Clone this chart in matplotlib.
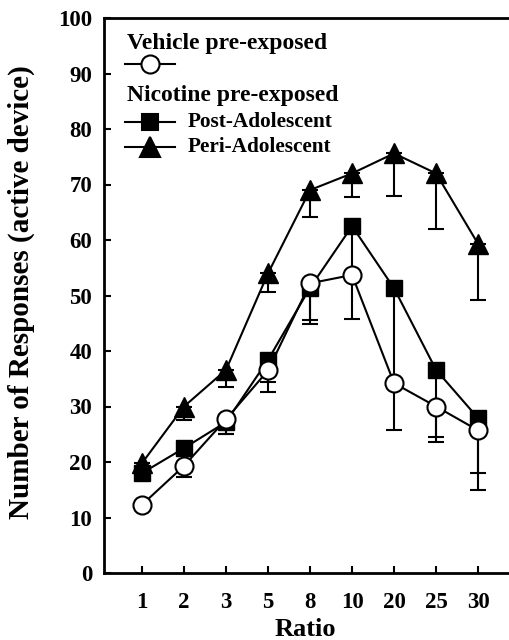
import matplotlib
matplotlib.use("Agg")
import matplotlib.pyplot as plt
from matplotlib.lines import Line2D
import numpy as np

ratios = ['1', '2', '3', '5', '8', '10', '20', '25', '30']
vehicle = [12.3, 19.3, 27.7, 36.5, 52.2, 53.7, 34.2, 30.0, 25.7]
vehicle_sem = [0.8, 2.0, 2.7, 2.1, 6.6, 7.9, 8.4, 5.5, 7.7]
post = [18.0, 22.5, 27.2, 38.4, 51.4, 62.5, 51.3, 36.6, 27.9]
post_sem = [1.0, 1.5, 2.2, 5.8, 6.5, 8.5, 16.3, 13.0, 12.9]
peri = [19.8, 30.0, 36.6, 54.0, 69.0, 72.0, 75.6, 72.0, 59.3]
peri_sem = [1.0, 2.4, 3.1, 3.4, 4.8, 4.3, 7.6, 10.0, 10.1]

plt.rcParams['font.family'] = ['Liberation Serif', 'DejaVu Serif']
plt.rcParams['font.weight'] = 'bold'

W, H = 510, 640
fig = plt.figure(figsize=(W / 100, H / 100), dpi=100)
ax = fig.add_axes([104 / W, (H - 573) / H, 406 / W, 555 / H])

x = np.arange(len(ratios))
common = dict(color='black', lw=1.5, elinewidth=1.5, capsize=6, capthick=1.5)

def lower(err):
    return [err, [0] * len(err)]

ax.errorbar(x, peri, yerr=lower(peri_sem), marker='^', ms=15, mfc='black', mec='black', zorder=3, **common)
ax.errorbar(x, post, yerr=lower(post_sem), marker='s', ms=12, mfc='black', mec='black', zorder=4, **common)
ax.errorbar(x, vehicle, yerr=lower(vehicle_sem), marker='o', ms=13, mfc='white', mec='black', mew=1.5, zorder=5, **common)

ax.set_xlim(-0.905, 8.76)
ax.set_ylim(0, 100)
ax.set_xticks(x)
ax.set_xticklabels(ratios)
ax.set_yticks(np.arange(0, 101, 10))
ax.tick_params(direction='in', length=5, width=1.5, labelsize=16.5)
ax.tick_params(axis='x', pad=14)
ax.tick_params(axis='y', pad=8.5)
for lab in ax.get_xticklabels() + ax.get_yticklabels():
    lab.set_fontweight('bold')
ax.spines['right'].set_visible(False)
for s in ['left', 'top', 'bottom']:
    ax.spines[s].set_linewidth(2)

ax.set_xlabel('Ratio', fontsize=19, fontweight='bold')
ax.set_ylabel('Number of Responses (active device)', fontsize=21, fontweight='bold')
ax.xaxis.set_label_coords((305 - 104) / 406, (573 - 618) / 555)
ax.yaxis.set_label_coords((35 - 104) / 406, (573 - 292) / 555)

# legend
def fx(px):
    return (px - 104) / 406

def fy(py):
    return (573 - py) / 555

ax.text(fx(127), fy(43), 'Vehicle pre-exposed', fontsize=17, fontweight='bold', va='center', ha='left', transform=ax.transAxes)
ax.text(fx(127), fy(95), 'Nicotine pre-exposed', fontsize=17, fontweight='bold', va='center', ha='left', transform=ax.transAxes)
ax.text(fx(188), fy(122), 'Post-Adolescent', fontsize=15.3, fontweight='bold', va='center', ha='left', transform=ax.transAxes)
ax.text(fx(188), fy(147), 'Peri-Adolescent', fontsize=15.3, fontweight='bold', va='center', ha='left', transform=ax.transAxes)
for yy, mk, fc, ms in [(64, 'o', 'white', 13), (122, 's', 'black', 12), (147, '^', 'black', 15)]:
    ax.add_line(Line2D([fx(125), fx(175)], [fy(yy), fy(yy)], color='black', lw=1.5, transform=ax.transAxes, clip_on=False))
    ax.add_line(Line2D([fx(150)], [fy(yy)], marker=mk, ms=ms, mfc=fc, mec='black', mew=1.5, lw=0, transform=ax.transAxes, clip_on=False))

fig.savefig('out.png', dpi=100)
